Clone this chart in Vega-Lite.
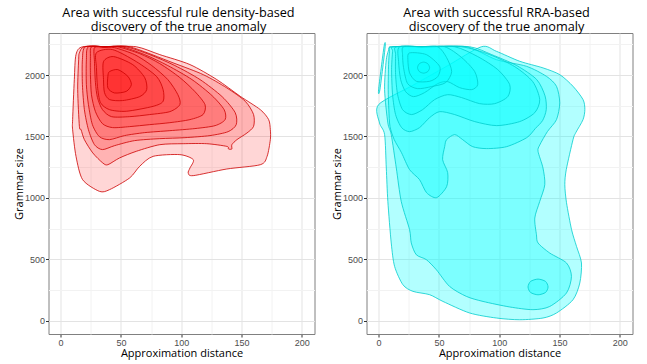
{
 "$schema": "https://vega.github.io/schema/vega-lite/v6.json",
 "padding": {"left": 12.5, "top": 6, "right": 6, "bottom": 4},
 "config": {
  "view": {"stroke": "#808080", "strokeWidth": 1},
  "font": "Liberation Sans",
  "axis": {"domain": false, "labelFont": "Liberation Sans", "labelFontSize": 9, "labelColor": "#4d4d4d", "tickColor": "#333333", "tickSize": 3, "tickWidth": 1, "titleFont": "Open Sans", "titleFontSize": 11, "titleFontWeight": "normal", "titleColor": "#000000", "labelOverlap": false, "labelFlush": false, "gridWidth": 1},
  "title": {"font": "Open Sans", "fontSize": 12.7, "fontWeight": "normal", "color": "#000000", "anchor": "middle", "lineHeight": 14, "offset": -1},
  "concat": {"spacing": 15}
 },
 "datasets": {
  "red": [
   {"g":"a1","i":0,"x":18.3,"y":2230},{"g":"a1","i":1,"x":40,"y":2230},{"g":"a1","i":2,"x":62.8,"y":2230},{"g":"a1","i":3,"x":82.25,"y":2166},{"g":"a1","i":4,"x":107.25,"y":2085},{"g":"a1","i":5,"x":129.5,"y":1963},{"g":"a1","i":6,"x":148.9,"y":1827},{"g":"a1","i":7,"x":165.6,"y":1718},{"g":"a1","i":8,"x":172.5,"y":1637},{"g":"a1","i":9,"x":173.9,"y":1555},{"g":"a1","i":10,"x":173.9,"y":1474},{"g":"a1","i":11,"x":171.2,"y":1338},{"g":"a1","i":12,"x":165.6,"y":1270},{"g":"a1","i":13,"x":137.8,"y":1235},{"g":"a1","i":14,"x":110,"y":1181},{"g":"a1","i":15,"x":105.8,"y":1203},{"g":"a1","i":16,"x":107.25,"y":1243},{"g":"a1","i":17,"x":110,"y":1311},{"g":"a1","i":18,"x":98.9,"y":1352},{"g":"a1","i":19,"x":76.7,"y":1338},{"g":"a1","i":20,"x":65.6,"y":1257},{"g":"a1","i":21,"x":57.25,"y":1162},{"g":"a1","i":22,"x":40.6,"y":1067},{"g":"a1","i":23,"x":32.25,"y":1053},{"g":"a1","i":24,"x":18.3,"y":1148},{"g":"a1","i":25,"x":12.8,"y":1338},{"g":"a1","i":26,"x":10,"y":1555},{"g":"a1","i":27,"x":10,"y":1637},{"g":"a1","i":28,"x":11.4,"y":1963},{"g":"a1","i":29,"x":12.8,"y":2166},
   {"g":"a2","i":0,"x":15.6,"y":2180},{"g":"a2","i":1,"x":19.75,"y":2230},{"g":"a2","i":2,"x":38,"y":2230},{"g":"a2","i":3,"x":57.25,"y":2230},{"g":"a2","i":4,"x":93.3,"y":2099},{"g":"a2","i":5,"x":118.3,"y":2003},{"g":"a2","i":6,"x":137.8,"y":1895},{"g":"a2","i":7,"x":153.1,"y":1786},{"g":"a2","i":8,"x":160,"y":1678},{"g":"a2","i":9,"x":160,"y":1582},{"g":"a2","i":10,"x":154.5,"y":1528},{"g":"a2","i":11,"x":146.2,"y":1474},{"g":"a2","i":12,"x":142,"y":1433},{"g":"a2","i":13,"x":142,"y":1398},{"g":"a2","i":14,"x":139.2,"y":1398},{"g":"a2","i":15,"x":137.8,"y":1419},{"g":"a2","i":16,"x":121.2,"y":1441},{"g":"a2","i":17,"x":101.7,"y":1441},{"g":"a2","i":18,"x":82.25,"y":1433},{"g":"a2","i":19,"x":62.8,"y":1379},{"g":"a2","i":20,"x":48.9,"y":1325},{"g":"a2","i":21,"x":39.2,"y":1270},{"g":"a2","i":22,"x":35,"y":1284},{"g":"a2","i":23,"x":26.7,"y":1366},{"g":"a2","i":24,"x":19.75,"y":1474},{"g":"a2","i":25,"x":17,"y":1555},{"g":"a2","i":26,"x":15.6,"y":1582},{"g":"a2","i":27,"x":14.2,"y":1881},{"g":"a2","i":28,"x":15,"y":2125},
   {"g":"a3","i":0,"x":20.6,"y":2230},{"g":"a3","i":1,"x":37,"y":2230},{"g":"a3","i":2,"x":53.9,"y":2230},{"g":"a3","i":3,"x":73.9,"y":2166},{"g":"a3","i":4,"x":94.75,"y":2077},{"g":"a3","i":5,"x":115.6,"y":1963},{"g":"a3","i":6,"x":133.9,"y":1824},{"g":"a3","i":7,"x":144.75,"y":1694},{"g":"a3","i":8,"x":145.6,"y":1596},{"g":"a3","i":9,"x":138.9,"y":1539},{"g":"a3","i":10,"x":123.9,"y":1507},{"g":"a3","i":11,"x":103.1,"y":1490},{"g":"a3","i":12,"x":82.25,"y":1482},{"g":"a3","i":13,"x":61.4,"y":1466},{"g":"a3","i":14,"x":44.75,"y":1425},{"g":"a3","i":15,"x":34.75,"y":1393},{"g":"a3","i":16,"x":28.1,"y":1433},{"g":"a3","i":17,"x":23.1,"y":1555},{"g":"a3","i":18,"x":19.75,"y":1718},{"g":"a3","i":19,"x":18.1,"y":1922},{"g":"a3","i":20,"x":18.1,"y":2125},
   {"g":"a4","i":0,"x":23.1,"y":2230},{"g":"a4","i":1,"x":37,"y":2230},{"g":"a4","i":2,"x":50.6,"y":2230},{"g":"a4","i":3,"x":69.75,"y":2166},{"g":"a4","i":4,"x":88.9,"y":2077},{"g":"a4","i":5,"x":108.9,"y":1963},{"g":"a4","i":6,"x":125.6,"y":1832},{"g":"a4","i":7,"x":135.6,"y":1718},{"g":"a4","i":8,"x":136.4,"y":1637},{"g":"a4","i":9,"x":128.1,"y":1588},{"g":"a4","i":10,"x":111.4,"y":1564},{"g":"a4","i":11,"x":90.6,"y":1547},{"g":"a4","i":12,"x":69.75,"y":1531},{"g":"a4","i":13,"x":53.1,"y":1507},{"g":"a4","i":14,"x":40.6,"y":1474},{"g":"a4","i":15,"x":32.25,"y":1498},{"g":"a4","i":16,"x":26.4,"y":1596},{"g":"a4","i":17,"x":23.1,"y":1759},{"g":"a4","i":18,"x":21.4,"y":1922},{"g":"a4","i":19,"x":21.4,"y":2125},
   {"g":"a5","i":0,"x":25.6,"y":2230},{"g":"a5","i":1,"x":36,"y":2230},{"g":"a5","i":2,"x":47.25,"y":2230},{"g":"a5","i":3,"x":65.6,"y":2174},{"g":"a5","i":4,"x":82.25,"y":2093},{"g":"a5","i":5,"x":98.9,"y":1979},{"g":"a5","i":6,"x":111.4,"y":1865},{"g":"a5","i":7,"x":119.75,"y":1759},{"g":"a5","i":8,"x":118.1,"y":1678},{"g":"a5","i":9,"x":107.25,"y":1637},{"g":"a5","i":10,"x":90.6,"y":1612},{"g":"a5","i":11,"x":73.9,"y":1596},{"g":"a5","i":12,"x":57.25,"y":1580},{"g":"a5","i":13,"x":43.1,"y":1572},{"g":"a5","i":14,"x":34.75,"y":1604},{"g":"a5","i":15,"x":28.9,"y":1702},{"g":"a5","i":16,"x":25.6,"y":1840},{"g":"a5","i":17,"x":24.75,"y":2003},{"g":"a5","i":18,"x":24.75,"y":2150},
   {"g":"a6","i":0,"x":28.1,"y":2223},{"g":"a6","i":1,"x":36,"y":2225},{"g":"a6","i":2,"x":44.75,"y":2223},{"g":"a6","i":3,"x":61.4,"y":2166},{"g":"a6","i":4,"x":75.6,"y":2077},{"g":"a6","i":5,"x":88.9,"y":1963},{"g":"a6","i":6,"x":97.25,"y":1840},{"g":"a6","i":7,"x":98.9,"y":1759},{"g":"a6","i":8,"x":90.6,"y":1702},{"g":"a6","i":9,"x":73.9,"y":1678},{"g":"a6","i":10,"x":57.25,"y":1661},{"g":"a6","i":11,"x":42.25,"y":1661},{"g":"a6","i":12,"x":34.75,"y":1718},{"g":"a6","i":13,"x":30.6,"y":1816},{"g":"a6","i":14,"x":28.9,"y":1938},{"g":"a6","i":15,"x":28.1,"y":2109},
   {"g":"a7","i":0,"x":29.75,"y":2182},{"g":"a7","i":1,"x":43.1,"y":2207},{"g":"a7","i":2,"x":62.8,"y":2109},{"g":"a7","i":3,"x":79.5,"y":1989},{"g":"a7","i":4,"x":85,"y":1881},{"g":"a7","i":5,"x":85,"y":1786},{"g":"a7","i":6,"x":76.7,"y":1745},{"g":"a7","i":7,"x":54.5,"y":1705},{"g":"a7","i":8,"x":40.6,"y":1718},{"g":"a7","i":9,"x":33.1,"y":1775},{"g":"a7","i":10,"x":30.6,"y":1906},{"g":"a7","i":11,"x":29.75,"y":2060},
   {"g":"a8","i":0,"x":35.6,"y":2109},{"g":"a8","i":1,"x":43.9,"y":2150},{"g":"a8","i":2,"x":59.75,"y":2085},{"g":"a8","i":3,"x":69.75,"y":1979},{"g":"a8","i":4,"x":71.4,"y":1881},{"g":"a8","i":5,"x":65.6,"y":1824},{"g":"a8","i":6,"x":51.4,"y":1792},{"g":"a8","i":7,"x":40.6,"y":1800},{"g":"a8","i":8,"x":36.4,"y":1857},{"g":"a8","i":9,"x":35.6,"y":1963},
   {"g":"a9","i":0,"x":40.6,"y":2028},{"g":"a9","i":1,"x":47.5,"y":2044},{"g":"a9","i":2,"x":55.8,"y":1989},{"g":"a9","i":3,"x":58.7,"y":1922},{"g":"a9","i":4,"x":54.5,"y":1867},{"g":"a9","i":5,"x":44.75,"y":1854},{"g":"a9","i":6,"x":39.2,"y":1895},{"g":"a9","i":7,"x":39.2,"y":1989}
  ],
  "cyan": [
   {"g":"b0","i":0,"x":0,"y":1880},{"g":"b0","i":1,"x":4.5,"y":2230},{"g":"b0","i":2,"x":5.5,"y":2230},{"g":"b0","i":3,"x":1.2,"y":1885},
   {"g":"b1","i":0,"x":85.2,"y":2230},{"g":"b1","i":1,"x":97.7,"y":2193},{"g":"b1","i":2,"x":117,"y":2112},{"g":"b1","i":3,"x":136.3,"y":2058},{"g":"b1","i":4,"x":150.2,"y":2003},{"g":"b1","i":5,"x":161.2,"y":1908},{"g":"b1","i":6,"x":169.5,"y":1800},{"g":"b1","i":7,"x":171,"y":1720},{"g":"b1","i":8,"x":169.5,"y":1637},{"g":"b1","i":9,"x":163.5,"y":1531},{"g":"b1","i":10,"x":161.2,"y":1474},{"g":"b1","i":11,"x":155.6,"y":1230},{"g":"b1","i":12,"x":154.4,"y":1107},{"g":"b1","i":13,"x":155.8,"y":961},{"g":"b1","i":14,"x":160,"y":741},{"g":"b1","i":15,"x":164.1,"y":605},{"g":"b1","i":16,"x":168.2,"y":470},{"g":"b1","i":17,"x":166.8,"y":307},{"g":"b1","i":18,"x":161.2,"y":171},{"g":"b1","i":19,"x":147.5,"y":63},{"g":"b1","i":20,"x":136.3,"y":22},{"g":"b1","i":21,"x":117,"y":8},{"g":"b1","i":22,"x":97.7,"y":22},{"g":"b1","i":23,"x":75.5,"y":63},{"g":"b1","i":24,"x":53.4,"y":157},{"g":"b1","i":25,"x":42.3,"y":212},{"g":"b1","i":26,"x":28.5,"y":239},{"g":"b1","i":27,"x":20.2,"y":293},{"g":"b1","i":28,"x":13.3,"y":442},{"g":"b1","i":29,"x":10.5,"y":633},{"g":"b1","i":30,"x":7.7,"y":971},{"g":"b1","i":31,"x":6.4,"y":1243},{"g":"b1","i":32,"x":5,"y":1515},{"g":"b1","i":33,"x":0.8,"y":1610},{"g":"b1","i":34,"x":0,"y":1759},{"g":"b1","i":35,"x":28.4,"y":1916},{"g":"b1","i":36,"x":56.8,"y":2073},
   {"g":"b2","i":0,"x":11.9,"y":2230},{"g":"b2","i":1,"x":42,"y":2230},{"g":"b2","i":2,"x":73,"y":2230},{"g":"b2","i":3,"x":97.7,"y":2125},{"g":"b2","i":4,"x":122.6,"y":2071},{"g":"b2","i":5,"x":139.2,"y":1989},{"g":"b2","i":6,"x":147.5,"y":1908},{"g":"b2","i":7,"x":150.2,"y":1773},{"g":"b2","i":8,"x":147.5,"y":1637},{"g":"b2","i":9,"x":140,"y":1540},{"g":"b2","i":10,"x":133.6,"y":1430},{"g":"b2","i":11,"x":132.2,"y":1379},{"g":"b2","i":12,"x":136.3,"y":1243},{"g":"b2","i":13,"x":137.8,"y":1107},{"g":"b2","i":14,"x":133.6,"y":971},{"g":"b2","i":15,"x":129.5,"y":836},{"g":"b2","i":16,"x":130.9,"y":700},{"g":"b2","i":17,"x":132.2,"y":633},{"g":"b2","i":18,"x":141.9,"y":551},{"g":"b2","i":19,"x":155.8,"y":470},{"g":"b2","i":20,"x":159.9,"y":361},{"g":"b2","i":21,"x":155.8,"y":226},{"g":"b2","i":22,"x":141.9,"y":116},{"g":"b2","i":23,"x":128,"y":90},{"g":"b2","i":24,"x":108.7,"y":112},{"g":"b2","i":25,"x":86.6,"y":157},{"g":"b2","i":26,"x":72.8,"y":198},{"g":"b2","i":27,"x":58.9,"y":279},{"g":"b2","i":28,"x":47.9,"y":415},{"g":"b2","i":29,"x":39.6,"y":497},{"g":"b2","i":30,"x":31.3,"y":537},{"g":"b2","i":31,"x":27.1,"y":633},{"g":"b2","i":32,"x":25.7,"y":741},{"g":"b2","i":33,"x":18.8,"y":971},{"g":"b2","i":34,"x":14.7,"y":1243},{"g":"b2","i":35,"x":10.5,"y":1515},{"g":"b2","i":36,"x":7.7,"y":1610},{"g":"b2","i":37,"x":5,"y":1881},{"g":"b2","i":38,"x":6.4,"y":2125},{"g":"b2","i":39,"x":9.1,"y":2220},
   {"g":"b3","i":0,"x":10.8,"y":2230},{"g":"b3","i":1,"x":43,"y":2230},{"g":"b3","i":2,"x":75.5,"y":2230},{"g":"b3","i":3,"x":93.8,"y":2166},{"g":"b3","i":4,"x":114.5,"y":2077},{"g":"b3","i":5,"x":131.1,"y":1963},{"g":"b3","i":6,"x":138,"y":1830},{"g":"b3","i":7,"x":139,"y":1718},{"g":"b3","i":8,"x":136,"y":1630},{"g":"b3","i":9,"x":130,"y":1565},{"g":"b3","i":10,"x":122.8,"y":1490},{"g":"b3","i":11,"x":106.2,"y":1417},{"g":"b3","i":12,"x":89.6,"y":1401},{"g":"b3","i":13,"x":78,"y":1417},{"g":"b3","i":14,"x":69.7,"y":1474},{"g":"b3","i":15,"x":63.1,"y":1515},{"g":"b3","i":16,"x":56.4,"y":1474},{"g":"b3","i":17,"x":54.8,"y":1417},{"g":"b3","i":18,"x":53.1,"y":1311},{"g":"b3","i":19,"x":57.3,"y":1205},{"g":"b3","i":20,"x":56.4,"y":1091},{"g":"b3","i":21,"x":48.1,"y":1002},{"g":"b3","i":22,"x":39.8,"y":1042},{"g":"b3","i":23,"x":34,"y":1148},{"g":"b3","i":24,"x":25.7,"y":1230},{"g":"b3","i":25,"x":19,"y":1368},{"g":"b3","i":26,"x":13,"y":1474},{"g":"b3","i":27,"x":9.5,"y":1580},{"g":"b3","i":28,"x":8.5,"y":1718},{"g":"b3","i":29,"x":8,"y":1881},{"g":"b3","i":30,"x":8.3,"y":2085},{"g":"b3","i":31,"x":9.1,"y":2191},
   {"g":"b4","i":0,"x":12.4,"y":2230},{"g":"b4","i":1,"x":40,"y":2230},{"g":"b4","i":2,"x":68.9,"y":2230},{"g":"b4","i":3,"x":92.1,"y":2166},{"g":"b4","i":4,"x":112.9,"y":2068},{"g":"b4","i":5,"x":127.8,"y":1946},{"g":"b4","i":6,"x":133.6,"y":1800},{"g":"b4","i":7,"x":129.5,"y":1694},{"g":"b4","i":8,"x":117,"y":1621},{"g":"b4","i":9,"x":97.9,"y":1588},{"g":"b4","i":10,"x":79.7,"y":1621},{"g":"b4","i":11,"x":63.1,"y":1678},{"g":"b4","i":12,"x":50.6,"y":1702},{"g":"b4","i":13,"x":42.3,"y":1653},{"g":"b4","i":14,"x":34,"y":1572},{"g":"b4","i":15,"x":25.7,"y":1539},{"g":"b4","i":16,"x":19.1,"y":1572},{"g":"b4","i":17,"x":14.1,"y":1678},{"g":"b4","i":18,"x":11.6,"y":1840},{"g":"b4","i":19,"x":10.8,"y":2044},{"g":"b4","i":20,"x":11.6,"y":2191},
   {"g":"b5","i":0,"x":14.9,"y":2230},{"g":"b5","i":1,"x":39,"y":2230},{"g":"b5","i":2,"x":63.1,"y":2230},{"g":"b5","i":3,"x":82.2,"y":2150},{"g":"b5","i":4,"x":98.8,"y":2044},{"g":"b5","i":5,"x":108.7,"y":1922},{"g":"b5","i":6,"x":107.1,"y":1824},{"g":"b5","i":7,"x":96.3,"y":1767},{"g":"b5","i":8,"x":83.8,"y":1767},{"g":"b5","i":9,"x":68.9,"y":1816},{"g":"b5","i":10,"x":57.3,"y":1840},{"g":"b5","i":11,"x":46.5,"y":1800},{"g":"b5","i":12,"x":36.5,"y":1718},{"g":"b5","i":13,"x":27.4,"y":1678},{"g":"b5","i":14,"x":19.9,"y":1718},{"g":"b5","i":15,"x":15.8,"y":1840},{"g":"b5","i":16,"x":14.1,"y":2003},{"g":"b5","i":17,"x":14.1,"y":2166},
   {"g":"b6","i":0,"x":17.4,"y":2230},{"g":"b6","i":1,"x":36,"y":2230},{"g":"b6","i":2,"x":54.8,"y":2230},{"g":"b6","i":3,"x":68.9,"y":2142},{"g":"b6","i":4,"x":79.7,"y":2028},{"g":"b6","i":5,"x":82.2,"y":1922},{"g":"b6","i":6,"x":77.2,"y":1881},{"g":"b6","i":7,"x":67.2,"y":1897},{"g":"b6","i":8,"x":57.3,"y":1946},{"g":"b6","i":9,"x":49,"y":1930},{"g":"b6","i":10,"x":38.2,"y":1857},{"g":"b6","i":11,"x":29,"y":1824},{"g":"b6","i":12,"x":22.4,"y":1865},{"g":"b6","i":13,"x":18.3,"y":1963},{"g":"b6","i":14,"x":16.6,"y":2109},
   {"g":"b7","i":0,"x":20.7,"y":2230},{"g":"b7","i":1,"x":35,"y":2230},{"g":"b7","i":2,"x":49,"y":2230},{"g":"b7","i":3,"x":56.4,"y":2142},{"g":"b7","i":4,"x":60.6,"y":2028},{"g":"b7","i":5,"x":55.6,"y":1938},{"g":"b7","i":6,"x":44,"y":1906},{"g":"b7","i":7,"x":32.4,"y":1889},{"g":"b7","i":8,"x":24.1,"y":1930},{"g":"b7","i":9,"x":20.7,"y":2060},{"g":"b7","i":10,"x":19.9,"y":2166},
   {"g":"b8","i":0,"x":25.7,"y":2180},{"g":"b8","i":1,"x":39.6,"y":2166},{"g":"b8","i":2,"x":50.6,"y":2071},{"g":"b8","i":3,"x":49.2,"y":1989},{"g":"b8","i":4,"x":42.3,"y":1949},{"g":"b8","i":5,"x":31.3,"y":1949},{"g":"b8","i":6,"x":25.7,"y":2017},{"g":"b8","i":7,"x":24.3,"y":2125},
   {"g":"b9","i":0,"x":32.3,"y":2060},{"g":"b9","i":1,"x":33.8,"y":2092},{"g":"b9","i":2,"x":37.3,"y":2105},{"g":"b9","i":3,"x":40.8,"y":2092},{"g":"b9","i":4,"x":42.3,"y":2060},{"g":"b9","i":5,"x":40.8,"y":2028},{"g":"b9","i":6,"x":37.3,"y":2015},{"g":"b9","i":7,"x":33.8,"y":2028},
   {"g":"b99","i":0,"x":123.9,"y":275},{"g":"b99","i":1,"x":126,"y":320},{"g":"b99","i":2,"x":132.2,"y":339},{"g":"b99","i":3,"x":138.4,"y":320},{"g":"b99","i":4,"x":140.5,"y":275},{"g":"b99","i":5,"x":138.4,"y":230},{"g":"b99","i":6,"x":132.2,"y":211},{"g":"b99","i":7,"x":126,"y":230}
  ]
 },
 "hconcat": [
  {
   "title": {"text": ["Area with successful rule density-based", "discovery of the true anomaly"], "dx": -3},
   "width": 266, "height": 301,
   "data": {"name": "red"},
   "mark": {"type": "line", "interpolate": "cardinal-closed", "tension": 0.2, "fill": "#ff0000", "fillOpacity": 0.16, "stroke": "#cd0000", "strokeWidth": 0.8, "clip": true},
   "encoding": {
    "x": {"field": "x", "type": "quantitative", "scale": {"domain": [-10, 210.5], "nice": false, "zero": false},
     "axis": {"title": "Approximation distance", "values": [0,25,50,75,100,125,150,175,200], "labelExpr": "datum.value % 50 === 0 ? datum.label : ''", "gridColor": {"condition": {"test": "datum.value % 50 === 0", "value": "#e3e3e3"}, "value": "#f2f2f2"}, "tickOpacity": {"condition": {"test": "datum.value % 50 === 0", "value": 1}, "value": 0}, "labelPadding": 1, "titlePadding": 0}},
    "y": {"field": "y", "type": "quantitative", "scale": {"domain": [-108, 2342], "nice": false, "zero": false},
     "axis": {"title": "Grammar size", "values": [0,250,500,750,1000,1250,1500,1750,2000,2250], "labelExpr": "datum.value % 500 === 0 ? datum.label : ''", "format": "d", "gridColor": {"condition": {"test": "datum.value % 500 === 0", "value": "#e3e3e3"}, "value": "#f2f2f2"}, "tickOpacity": {"condition": {"test": "datum.value % 500 === 0", "value": 1}, "value": 0}, "labelPadding": 1, "titlePadding": 0}},
    "detail": {"field": "g", "type": "nominal"},
    "order": {"field": "i", "type": "quantitative"}
   }
  },
  {
   "title": {"text": ["Area with successful RRA-based", "discovery of the true anomaly"], "dx": -3},
   "width": 266, "height": 301,
   "data": {"name": "cyan"},
   "mark": {"type": "line", "interpolate": "cardinal-closed", "tension": 0.2, "fill": "#00ffff", "fillOpacity": 0.3, "stroke": "#00cdcd", "strokeWidth": 0.8, "clip": true},
   "encoding": {
    "x": {"field": "x", "type": "quantitative", "scale": {"domain": [-10, 210.5], "nice": false, "zero": false},
     "axis": {"title": "Approximation distance", "values": [0,25,50,75,100,125,150,175,200], "labelExpr": "datum.value % 50 === 0 ? datum.label : ''", "gridColor": {"condition": {"test": "datum.value % 50 === 0", "value": "#e3e3e3"}, "value": "#f2f2f2"}, "tickOpacity": {"condition": {"test": "datum.value % 50 === 0", "value": 1}, "value": 0}, "labelPadding": 1, "titlePadding": 0}},
    "y": {"field": "y", "type": "quantitative", "scale": {"domain": [-108, 2342], "nice": false, "zero": false},
     "axis": {"title": "Grammar size", "values": [0,250,500,750,1000,1250,1500,1750,2000,2250], "labelExpr": "datum.value % 500 === 0 ? datum.label : ''", "format": "d", "gridColor": {"condition": {"test": "datum.value % 500 === 0", "value": "#e3e3e3"}, "value": "#f2f2f2"}, "tickOpacity": {"condition": {"test": "datum.value % 500 === 0", "value": 1}, "value": 0}, "labelPadding": 1, "titlePadding": 0}},
    "detail": {"field": "g", "type": "nominal"},
    "order": {"field": "i", "type": "quantitative"}
   }
  }
 ]
}
